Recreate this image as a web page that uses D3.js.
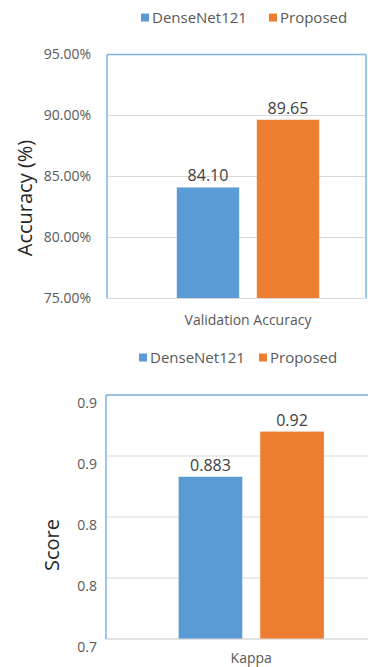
<!DOCTYPE html>
<html>
<head>
<meta charset="utf-8">
<script src="https://cdn.jsdelivr.net/npm/d3@7"></script>
<style>
  html, body { margin: 0; padding: 0; background: #fff; }
  svg { display: block; }
  text { font-family: "Open Sans", "Noto Sans", sans-serif; }
</style>
</head>
<body>
<svg id="chart" width="368" height="667"></svg>
<script>
// Series shared by both panels
const series = ["DenseNet121", "Proposed"];
const seriesColors = ["#5b9bd5", "#ed7d31"];

// Panel 1: validation accuracy
const accCategories = ["Validation Accuracy"];
const accValues = [84.10, 89.65];
const accLabels = ["84.10", "89.65"];
const accTicks = [75, 80, 85, 90, 95];
const accTickLabels = ["75.00%", "80.00%", "85.00%", "90.00%", "95.00%"];

// Panel 2: kappa score
const kappaCategories = ["Kappa"];
const kappaValues = [0.883, 0.92];
const kappaLabels = ["0.883", "0.92"];
const kappaTicks = [0.75, 0.80, 0.85, 0.90, 0.95];
const kappaTickLabels = ["0.7", "0.8", "0.8", "0.9", "0.9"];

const svg = d3.select("#chart");
const frameColor = "#7eb2e4";
const gridColor = "#d9d9d9";
const textGray = "#595959";

function drawPanel(cfg) {
  const g = svg.append("g");

  // Legend
  const leg = g.append("g").attr("transform", `translate(0,${cfg.legendY})`);
  series.forEach((s, i) => {
    const lx = cfg.legendX[i];
    leg.append("rect").attr("x", lx).attr("y", -4.5).attr("width", 8).attr("height", 8)
      .attr("fill", seriesColors[i]);
    leg.append("text").attr("x", lx + 11).attr("y", 0).attr("dy", "0.35em")
      .attr("font-size", 15).attr("fill", textGray).text(s);
  });

  const y = d3.scaleLinear().domain(cfg.domain).range([cfg.bottom, cfg.top]);
  const x0 = d3.scaleBand().domain(cfg.categories)
    .range([cfg.left, cfg.bandRight]).paddingOuter(cfg.outer).paddingInner(0);
  const x1 = d3.scaleBand().domain(series).range([0, x0.bandwidth()]).paddingInner(0.22);

  // Gridlines
  g.append("g")
    .selectAll("line").data(cfg.ticks).join("line")
    .attr("x1", cfg.left).attr("x2", cfg.gridRight)
    .attr("y1", d => y(d)).attr("y2", d => y(d))
    .attr("stroke", gridColor).attr("stroke-width", 1);

  // Y axis tick labels
  const yAxis = d3.axisLeft(y).tickValues(cfg.ticks).tickSize(0).tickPadding(0)
    .tickFormat((d, i) => cfg.tickLabels[i]);
  const ya = g.append("g").attr("transform", `translate(${cfg.tickRight},0)`).call(yAxis);
  ya.select(".domain").remove();
  ya.selectAll("text").attr("font-size", 14).attr("fill", textGray)
    .attr("font-family", "'Open Sans', sans-serif")
    .attr("dy", cfg.tickDy);

  // Bars
  const bars = g.append("g").attr("transform", `translate(${x0(cfg.categories[0])},0)`);
  bars.selectAll("rect").data(cfg.values).join("rect")
    .attr("x", (d, i) => x1(series[i]))
    .attr("width", x1.bandwidth())
    .attr("y", d => y(d))
    .attr("height", d => y(cfg.domain[0]) - y(d))
    .attr("fill", (d, i) => seriesColors[i]);

  // Data labels
  bars.selectAll("text").data(cfg.values).join("text")
    .attr("x", (d, i) => x1(series[i]) + x1.bandwidth() / 2)
    .attr("y", d => y(d) - 6)
    .attr("text-anchor", "middle").attr("font-size", 16).attr("fill", "#404040")
    .text((d, i) => cfg.labels[i]);

  // Plot frame: blue left/top (and right) edges, gray baseline
  g.append("line").attr("x1", cfg.left).attr("x2", cfg.left)
    .attr("y1", cfg.top).attr("y2", cfg.bottom)
    .attr("stroke", frameColor).attr("stroke-width", 1.5);
  g.append("line").attr("x1", cfg.left).attr("x2", cfg.frameRight)
    .attr("y1", cfg.top).attr("y2", cfg.top)
    .attr("stroke", frameColor).attr("stroke-width", 1.5);
  if (cfg.rightEdge) {
    g.append("line").attr("x1", cfg.frameRight).attr("x2", cfg.frameRight)
      .attr("y1", cfg.top).attr("y2", cfg.bottom)
      .attr("stroke", frameColor).attr("stroke-width", 1.5);
  }
  g.append("line").attr("x1", cfg.left).attr("x2", cfg.gridRight)
    .attr("y1", cfg.bottom).attr("y2", cfg.bottom)
    .attr("stroke", gridColor).attr("stroke-width", 1);

  // Category label
  g.append("text")
    .attr("x", x0(cfg.categories[0]) + x0.bandwidth() / 2)
    .attr("y", cfg.catY).attr("text-anchor", "middle")
    .attr("font-size", 14).attr("fill", textGray).text(cfg.categories[0]);

  // Y axis title
  g.append("text")
    .attr("transform", `translate(${cfg.titleX},${cfg.titleY}) rotate(-90)`)
    .attr("text-anchor", "middle").attr("dy", "0.35em")
    .attr("font-size", 20).attr("fill", "#262626").text(cfg.title);
}

drawPanel({
  categories: accCategories, values: accValues, labels: accLabels,
  ticks: accTicks, tickLabels: accTickLabels, domain: [75, 95],
  top: 54.5, bottom: 298.5, left: 107, bandRight: 389, outer: 0.49,
  gridRight: 365, frameRight: 366, rightEdge: true,
  tickRight: 91, tickDy: "0.32em",
  legendY: 18, legendX: [141, 269],
  catY: 325, title: "Accuracy (%)", titleX: 25, titleY: 198
});

drawPanel({
  categories: kappaCategories, values: kappaValues, labels: kappaLabels,
  ticks: kappaTicks, tickLabels: kappaTickLabels, domain: [0.75, 0.95],
  top: 395, bottom: 639, left: 106, bandRight: 396.5, outer: 0.5,
  gridRight: 368, frameRight: 368, rightEdge: false,
  tickRight: 97, tickDy: "0.9em",
  legendY: 358, legendX: [139, 259],
  catY: 663, title: "Score", titleX: 52, titleY: 545
});
</script>
</body>
</html>
